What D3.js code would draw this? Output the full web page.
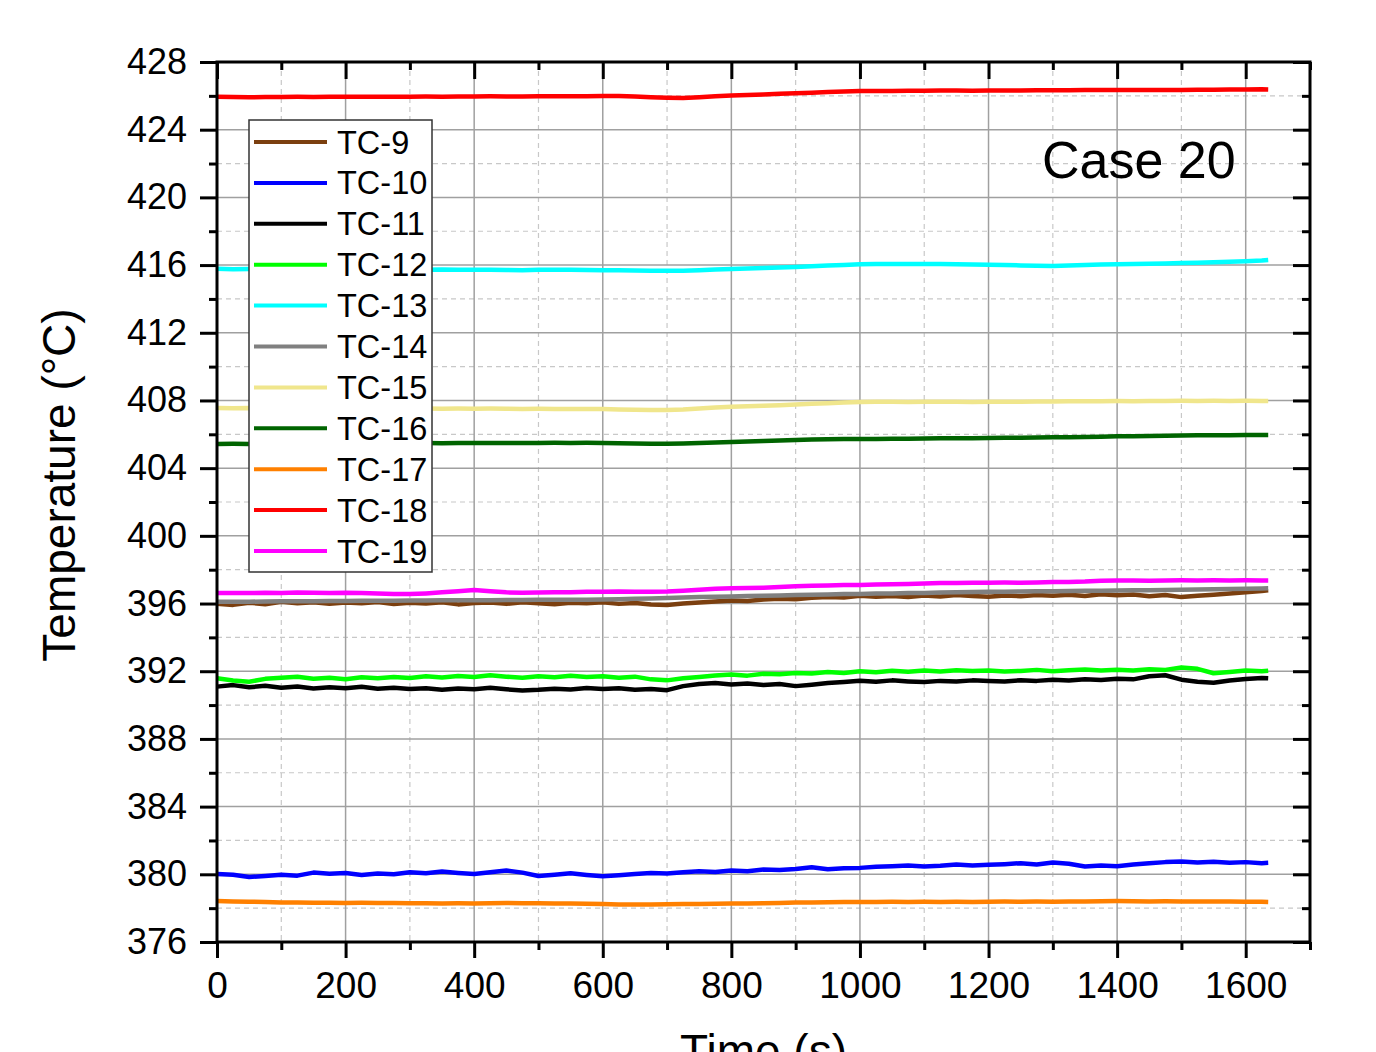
<!DOCTYPE html>
<html>
<head>
<meta charset="utf-8">
<script src="https://cdn.jsdelivr.net/npm/d3@7"></script>
<style>
  body { margin: 0; background: #fff; }
  svg { display: block; font-family: "Liberation Sans", Arial, sans-serif; }
</style>
</head>
<body>
<svg id="chart" width="1376" height="1052"></svg>
<script>
// time (s), shared by all thermocouples
const time = [
  0, 25, 50, 75, 100, 125, 150, 175, 200, 225,
  250, 275, 300, 325, 350, 375, 400, 425, 450, 475,
  500, 525, 550, 575, 600, 625, 650, 675, 700, 725,
  750, 775, 800, 825, 850, 875, 900, 925, 950, 975,
  1000, 1025, 1050, 1075, 1100, 1125, 1150, 1175, 1200, 1225,
  1250, 1275, 1300, 1325, 1350, 1375, 1400, 1425, 1450, 1475,
  1500, 1525, 1550, 1575, 1600, 1625, 1635
];

const tc9 = [
  395.98, 395.92, 396.05, 395.96, 396.10, 396.02, 396.08, 395.99, 396.06, 396.01,
  396.09, 395.97, 396.04, 396.00, 396.07, 395.95, 396.03, 396.06, 395.98, 396.08,
  396.01, 395.96, 396.05, 396.02, 396.07, 395.98, 396.03, 395.94, 395.92, 396.00,
  396.06, 396.12, 396.18, 396.15, 396.24, 396.28, 396.25, 396.34, 396.39, 396.36,
  396.46, 396.40, 396.45, 396.38, 396.47, 396.42, 396.50, 396.44, 396.40, 396.48,
  396.43, 396.51, 396.46, 396.52, 396.45, 396.55, 396.49, 396.53, 396.43, 396.50,
  396.38, 396.46, 396.52, 396.60, 396.66, 396.74, 396.78
];
const tc10 = [
  380.02, 379.97, 379.84, 379.90, 379.98, 379.92, 380.10, 380.04, 380.08, 379.96,
  380.05, 380.00, 380.12, 380.06, 380.16, 380.08, 380.02, 380.12, 380.22, 380.10,
  379.90, 379.98, 380.06, 379.96, 379.88, 379.94, 380.02, 380.08, 380.05, 380.12,
  380.18, 380.14, 380.22, 380.18, 380.28, 380.25, 380.32, 380.42, 380.30, 380.36,
  380.38, 380.44, 380.48, 380.52, 380.46, 380.50, 380.58, 380.52, 380.56, 380.60,
  380.66, 380.58, 380.70, 380.62, 380.46, 380.52, 380.48, 380.58, 380.66, 380.72,
  380.75, 380.70, 380.74, 380.68, 380.72, 380.66, 380.68
];
const tc11 = [
  391.09, 391.18, 391.05, 391.14, 391.02, 391.10, 390.98, 391.06, 391.00, 391.08,
  390.96, 391.03, 390.95, 391.00, 390.91, 390.98, 390.94, 391.02, 390.93, 390.86,
  390.90, 390.97, 390.92, 391.01, 390.95, 390.99, 390.90, 390.95, 390.88, 391.12,
  391.25, 391.30, 391.22, 391.28, 391.18, 391.24, 391.12, 391.20, 391.30, 391.36,
  391.44, 391.38, 391.46, 391.40, 391.36, 391.43, 391.39, 391.46, 391.42, 391.40,
  391.47, 391.43, 391.50, 391.45, 391.52, 391.48, 391.56, 391.52, 391.70, 391.76,
  391.50, 391.38, 391.32, 391.45, 391.54, 391.60, 391.58
];
const tc12 = [
  391.58, 391.45, 391.38, 391.55, 391.62, 391.68, 391.56, 391.61, 391.52, 391.64,
  391.58, 391.66, 391.60, 391.70, 391.63, 391.72, 391.66, 391.76, 391.68, 391.62,
  391.70, 391.64, 391.73, 391.66, 391.71, 391.62, 391.68, 391.52, 391.46, 391.58,
  391.66, 391.75, 391.80, 391.74, 391.85, 391.82, 391.90, 391.86, 391.95, 391.90,
  392.00, 391.94, 392.03, 391.97, 392.05, 391.98, 392.06, 392.01, 392.04, 391.99,
  392.02, 392.08, 392.00, 392.06, 392.10, 392.04, 392.09, 392.05, 392.12, 392.08,
  392.22, 392.14, 391.88, 391.96, 392.05, 392.00, 392.03
];
const tc13 = [
  415.78, 415.76, 415.77, 415.75, 415.76, 415.77, 415.76, 415.75, 415.76, 415.74,
  415.75, 415.74, 415.75, 415.73, 415.74, 415.72, 415.73, 415.72, 415.71, 415.70,
  415.72, 415.73, 415.72, 415.71, 415.70, 415.69, 415.68, 415.67, 415.66, 415.67,
  415.70, 415.74, 415.77, 415.80, 415.83, 415.86, 415.89, 415.93, 415.97, 416.01,
  416.05, 416.06, 416.07, 416.06, 416.07, 416.06, 416.05, 416.04, 416.02, 416.00,
  415.98, 415.96, 415.95, 415.97, 416.00, 416.03, 416.05, 416.07, 416.08, 416.10,
  416.12, 416.14, 416.17, 416.20, 416.23, 416.27, 416.30
];
const tc14 = [
  396.10, 396.11, 396.11, 396.12, 396.13, 396.13, 396.14, 396.15, 396.15, 396.16,
  396.17, 396.17, 396.18, 396.18, 396.19, 396.19, 396.20, 396.20, 396.21, 396.21,
  396.22, 396.22, 396.23, 396.23, 396.24, 396.26, 396.28, 396.30, 396.33, 396.36,
  396.38, 396.40, 396.42, 396.44, 396.46, 396.48, 396.50, 396.52, 396.54, 396.56,
  396.57, 396.59, 396.60, 396.62, 396.63, 396.65, 396.66, 396.68, 396.69, 396.70,
  396.71, 396.72, 396.73, 396.74, 396.75, 396.76, 396.77, 396.78, 396.79, 396.80,
  396.82, 396.83, 396.84, 396.86, 396.87, 396.89, 396.90
];
const tc15 = [
  407.55, 407.54, 407.55, 407.53, 407.54, 407.55, 407.54, 407.53, 407.54, 407.52,
  407.53, 407.52, 407.53, 407.52, 407.51, 407.52, 407.51, 407.52, 407.51, 407.50,
  407.51, 407.50, 407.49, 407.50, 407.49, 407.47, 407.45, 407.44, 407.43, 407.46,
  407.52, 407.58, 407.63, 407.66, 407.69, 407.72, 407.76, 407.80, 407.84, 407.88,
  407.91, 407.92, 407.92, 407.91, 407.92, 407.93, 407.92, 407.91, 407.92, 407.93,
  407.93, 407.94, 407.94, 407.95, 407.95, 407.96, 407.97, 407.96, 407.97, 407.97,
  407.98, 407.97, 407.98, 407.97, 407.98, 407.97, 407.97
];
const tc16 = [
  405.43, 405.44, 405.43, 405.45, 405.44, 405.45, 405.44, 405.46, 405.45, 405.46,
  405.47, 405.46, 405.47, 405.48, 405.47, 405.48, 405.48, 405.49, 405.48, 405.49,
  405.49, 405.50, 405.49, 405.50, 405.49, 405.47, 405.45, 405.44, 405.44, 405.46,
  405.49, 405.52, 405.55, 405.58, 405.61, 405.64, 405.67, 405.69, 405.71, 405.72,
  405.72, 405.73, 405.74, 405.74, 405.75, 405.76, 405.76, 405.77, 405.78, 405.79,
  405.80, 405.81, 405.82, 405.83, 405.84, 405.86, 405.88, 405.89, 405.90, 405.92,
  405.93, 405.94, 405.95, 405.95, 405.96, 405.96, 405.96
];
const tc17 = [
  378.42, 378.40, 378.38, 378.36, 378.34, 378.33, 378.32, 378.32, 378.31, 378.32,
  378.31, 378.30, 378.29, 378.29, 378.28, 378.29, 378.28, 378.29, 378.30, 378.29,
  378.29, 378.28, 378.27, 378.26, 378.24, 378.22, 378.21, 378.22, 378.23, 378.24,
  378.25, 378.26, 378.27, 378.28, 378.29, 378.31, 378.33, 378.34, 378.35, 378.36,
  378.37, 378.37, 378.38, 378.37, 378.38, 378.37, 378.38, 378.37, 378.38, 378.39,
  378.38, 378.39, 378.38, 378.39, 378.40, 378.41, 378.42, 378.41, 378.40, 378.41,
  378.40, 378.39, 378.40, 378.39, 378.38, 378.38, 378.37
];
const tc18 = [
  425.95, 425.93, 425.92, 425.93, 425.93, 425.94, 425.93, 425.94, 425.95, 425.94,
  425.94, 425.95, 425.95, 425.96, 425.95, 425.96, 425.96, 425.97, 425.96, 425.96,
  425.97, 425.97, 425.98, 425.98, 425.99, 425.99, 425.96, 425.92, 425.89, 425.88,
  425.92, 425.98, 426.02, 426.05, 426.08, 426.12, 426.15, 426.18, 426.22, 426.26,
  426.28, 426.29, 426.29, 426.30, 426.30, 426.31, 426.31, 426.30, 426.31, 426.32,
  426.32, 426.33, 426.33, 426.33, 426.34, 426.34, 426.34, 426.35, 426.35, 426.35,
  426.35, 426.36, 426.36, 426.37, 426.38, 426.39, 426.38
];
const tc19 = [
  396.62, 396.63, 396.62, 396.64, 396.63, 396.65, 396.64, 396.63, 396.64, 396.62,
  396.60, 396.57, 396.56, 396.60, 396.66, 396.72, 396.80, 396.72, 396.66, 396.64,
  396.65, 396.66, 396.67, 396.69, 396.70, 396.71, 396.69, 396.70, 396.71, 396.76,
  396.82, 396.87, 396.90, 396.92, 396.94, 396.98, 397.02, 397.05, 397.07, 397.09,
  397.10, 397.12, 397.14, 397.16, 397.19, 397.21, 397.22, 397.23, 397.23, 397.24,
  397.23, 397.25, 397.27, 397.28, 397.30, 397.35, 397.36, 397.36, 397.35, 397.36,
  397.37, 397.36, 397.37, 397.36, 397.37, 397.36, 397.36
];

const seriesNames = ['TC-9', 'TC-10', 'TC-11', 'TC-12', 'TC-13', 'TC-14', 'TC-15', 'TC-16', 'TC-17', 'TC-18', 'TC-19'];
const seriesValues = [tc9, tc10, tc11, tc12, tc13, tc14, tc15, tc16, tc17, tc18, tc19];
const seriesColors = ['#7b3f0f', '#0000ff', '#000000', '#00ff00', '#00ffff', '#808080', '#f0e68c', '#006400', '#ff8000', '#ff0000', '#ff00ff'];

const xMajor = [0, 200, 400, 600, 800, 1000, 1200, 1400, 1600];
const xMinor = [100, 300, 500, 700, 900, 1100, 1300, 1500, 1700];
const yMajor = [376, 380, 384, 388, 392, 396, 400, 404, 408, 412, 416, 420, 424, 428];
const yMinor = [378, 382, 386, 390, 394, 398, 402, 406, 410, 414, 418, 422, 426];

const svg = d3.select('#chart');
const margin = { top: 62, right: 66, bottom: 110, left: 217 };
const W = 1376, H = 1052;
const innerW = W - margin.left - margin.right;
const innerH = H - margin.top - margin.bottom;

const x = d3.scaleLinear().domain([0, 1700]).range([0, innerW]);
const y = d3.scaleLinear().domain([376, 428]).range([innerH, 0]);

const g = svg.append('g').attr('transform', `translate(${margin.left},${margin.top})`);

// grid: minor dashed, major solid
const grid = g.append('g');
grid.selectAll('.vmin').data(xMinor.filter(d => d < 1700)).join('line')
  .attr('x1', d => x(d)).attr('x2', d => x(d)).attr('y1', 0).attr('y2', innerH)
  .attr('stroke', '#c8c8c8').attr('stroke-width', 1.2).attr('stroke-dasharray', '5 4');
grid.selectAll('.hmin').data(yMinor).join('line')
  .attr('y1', d => y(d)).attr('y2', d => y(d)).attr('x1', 0).attr('x2', innerW)
  .attr('stroke', '#c8c8c8').attr('stroke-width', 1.2).attr('stroke-dasharray', '5 4');
grid.selectAll('.vmaj').data(xMajor.filter(d => d > 0)).join('line')
  .attr('x1', d => x(d)).attr('x2', d => x(d)).attr('y1', 0).attr('y2', innerH)
  .attr('stroke', '#a0a0a0').attr('stroke-width', 1.5);
grid.selectAll('.hmaj').data(yMajor.filter(d => d > 376 && d < 428)).join('line')
  .attr('y1', d => y(d)).attr('y2', d => y(d)).attr('x1', 0).attr('x2', innerW)
  .attr('stroke', '#a0a0a0').attr('stroke-width', 1.5);

// lines
const line = d3.line().x((d, i) => x(time[i])).y(d => y(d));
g.append('g').selectAll('path').data(seriesValues).join('path')
  .attr('fill', 'none')
  .attr('stroke', (d, i) => seriesColors[i])
  .attr('stroke-width', 4.5)
  .attr('stroke-linejoin', 'round')
  .attr('d', line);

// axes
function styleAxis(sel, fontSize) {
  sel.select('.domain').remove();
  sel.selectAll('line').attr('stroke', '#000').attr('stroke-width', 3);
  sel.selectAll('text').attr('fill', '#000').style('font-size', fontSize + 'px')
    .style('font-family', '"Liberation Sans", Arial, sans-serif');
}

const bottom = g.append('g').attr('transform', `translate(0,${innerH})`)
  .call(d3.axisBottom(x).tickValues(xMajor).tickSize(16).tickPadding(14).tickFormat(d3.format('d')));
styleAxis(bottom, 37);
g.append('g').attr('transform', `translate(0,${innerH})`)
  .call(d3.axisBottom(x).tickValues(xMinor).tickSize(8).tickFormat(''))
  .call(s => styleAxis(s, 10));

const left = g.append('g')
  .call(d3.axisLeft(y).tickValues(yMajor).tickSize(17).tickPadding(13).tickFormat(d3.format('d')));
styleAxis(left, 36);
g.append('g').call(d3.axisLeft(y).tickValues(yMinor).tickSize(8).tickFormat(''))
  .call(s => styleAxis(s, 10));

g.append('g').call(d3.axisTop(x).tickValues(xMajor).tickSize(-17).tickFormat('')).call(s => styleAxis(s, 10));
g.append('g').call(d3.axisTop(x).tickValues(xMinor).tickSize(-8).tickFormat('')).call(s => styleAxis(s, 10));
g.append('g').attr('transform', `translate(${innerW},0)`)
  .call(d3.axisRight(y).tickValues(yMajor).tickSize(-17).tickFormat('')).call(s => styleAxis(s, 10));
g.append('g').attr('transform', `translate(${innerW},0)`)
  .call(d3.axisRight(y).tickValues(yMinor).tickSize(-8).tickFormat('')).call(s => styleAxis(s, 10));

// frame
g.append('rect').attr('x', 0).attr('y', 0).attr('width', innerW).attr('height', innerH)
  .attr('fill', 'none').attr('stroke', '#000').attr('stroke-width', 3);

// axis titles
svg.append('text')
  .attr('transform', 'translate(75,485) rotate(-90)')
  .attr('text-anchor', 'middle')
  .style('font-size', '46px')
  .text('Temperature (°C)');
svg.append('text')
  .attr('x', margin.left + x(850)).attr('y', 1067)
  .attr('text-anchor', 'middle')
  .style('font-size', '46px')
  .text('Time (s)');

// case label
svg.append('text').attr('x', 1042).attr('y', 178).style('font-size', '52px').text('Case 20');

// legend
const legend = svg.append('g').attr('transform', 'translate(249,120)');
legend.append('rect').attr('width', 183).attr('height', 452)
  .attr('fill', '#fff').attr('stroke', '#333').attr('stroke-width', 1.5);
const rowH = 40.9;
const items = legend.selectAll('.item').data(seriesNames).join('g')
  .attr('transform', (d, i) => `translate(0,${22 + i * rowH})`);
items.append('line').attr('x1', 5).attr('x2', 78).attr('y1', 0).attr('y2', 0)
  .attr('stroke', (d, i) => seriesColors[i]).attr('stroke-width', 4);
items.append('text').attr('x', 88).attr('y', 11.5).style('font-size', '32.5px').text(d => d);
</script>
</body>
</html>
